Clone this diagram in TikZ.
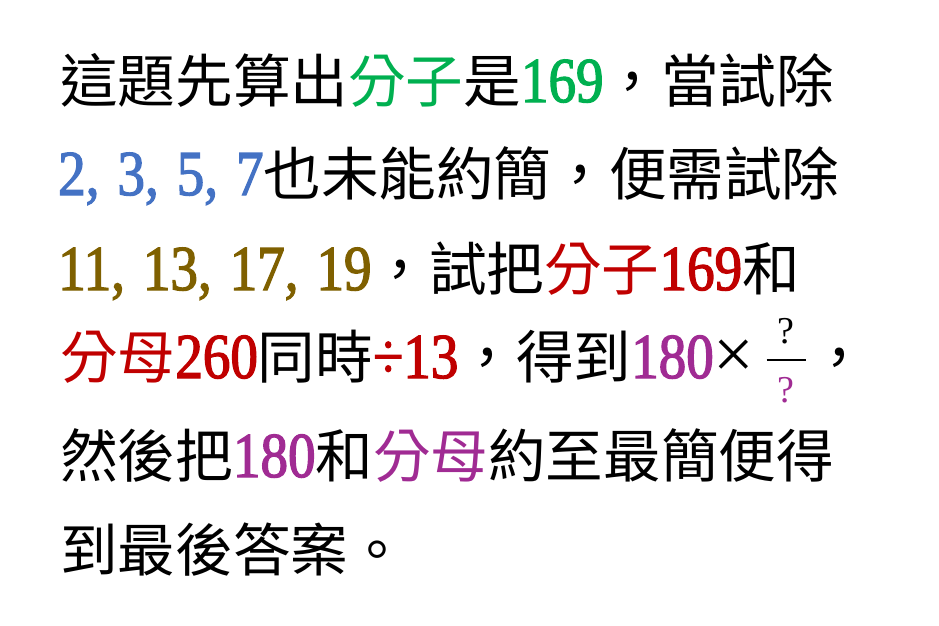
\documentclass[tikz,border=0pt]{standalone}
\usepackage{fontspec}
\usepackage{xcolor}
\usepackage{tikz}
\usetikzlibrary{calc}
\setmainfont{Liberation Serif}
\newfontfamily\numfont{Liberation Serif}[FakeStretch=0.86,FakeBold=2]
\newfontfamily\cjkfont{Noto Sans CJK TC}
\definecolor{cgreen}{HTML}{00B050}
\definecolor{cblue}{HTML}{4472C4}
\definecolor{colive}{HTML}{7F6000}
\definecolor{cred}{HTML}{C00000}
\definecolor{cpurple}{RGB}{160,43,147}
\newcommand{\zh}[1]{{\fontsize{57.6}{60}\cjkfont #1}}
\newcommand{\nm}[1]{{\fontsize{64}{66}\numfont #1}}
\newcommand{\gap}{\hspace{18pt}}
\tikzset{
	line/.style={anchor=base west,inner sep=0pt},
	qmark/.style={inner sep=0pt,font=\fontsize{38}{40}\selectfont},
	fracbar/.style={line width=2pt}
}

\begin{document}
\begin{tikzpicture}[x=1pt,y=-1pt]
	\useasboundingbox (0,0) rectangle (939,626);
	\node [line] (l1) at (60,102) {\zh{這題先算出\textcolor{cgreen}{分子}是}\textcolor{cgreen}{\nm{169}}\zh{，當試除}};
	\node [line] (l2) at (58,195) {\textcolor{cblue}{\nm{2,\gap3,\gap5,\gap7}}\zh{也未能約簡，便需試除}};
	\node [line] (l3) at (58,290) {\textcolor{colive}{\nm{11,\gap13,\gap17,\gap19}}\zh{，試把\textcolor{cred}{分子}}\textcolor{cred}{\nm{169}}\zh{和}};
	\node [line] (l4) at (60,378) {\zh{\textcolor{cred}{分母}}\textcolor{cred}{\nm{260}}\zh{同時}\textcolor{cred}{\nm{÷13}}\zh{，得到}\textcolor{cpurple}{\nm{180}}{\fontsize{72}{74}\selectfont ×}};
	\node [line] (l5) at (60,477) {\zh{然後把}\textcolor{cpurple}{\nm{180}}\zh{和\textcolor{cpurple}{分母}約至最簡便得}};
	\node [line] (l6) at (60,571) {\zh{到最後答案。}};

	% fraction ? / ?
	\coordinate (barL) at ([xshift=12pt,yshift=18pt]l4.base east);
	\coordinate (barR) at ([xshift=39pt]barL);
	\coordinate (barM) at ($(barL)!0.5!(barR)$);
	\draw [fracbar] (barL) -- (barR);
	\node [qmark,anchor=base] (num) at ([yshift=17pt]barM) {?};
	\node [qmark,anchor=north,text=cpurple] (den) at ([yshift=-17pt]barM) {?};
	\node [line] (l4b) at ([xshift=5pt,yshift=-18pt]barR) {\zh{，}};
\end{tikzpicture}
\end{document}
